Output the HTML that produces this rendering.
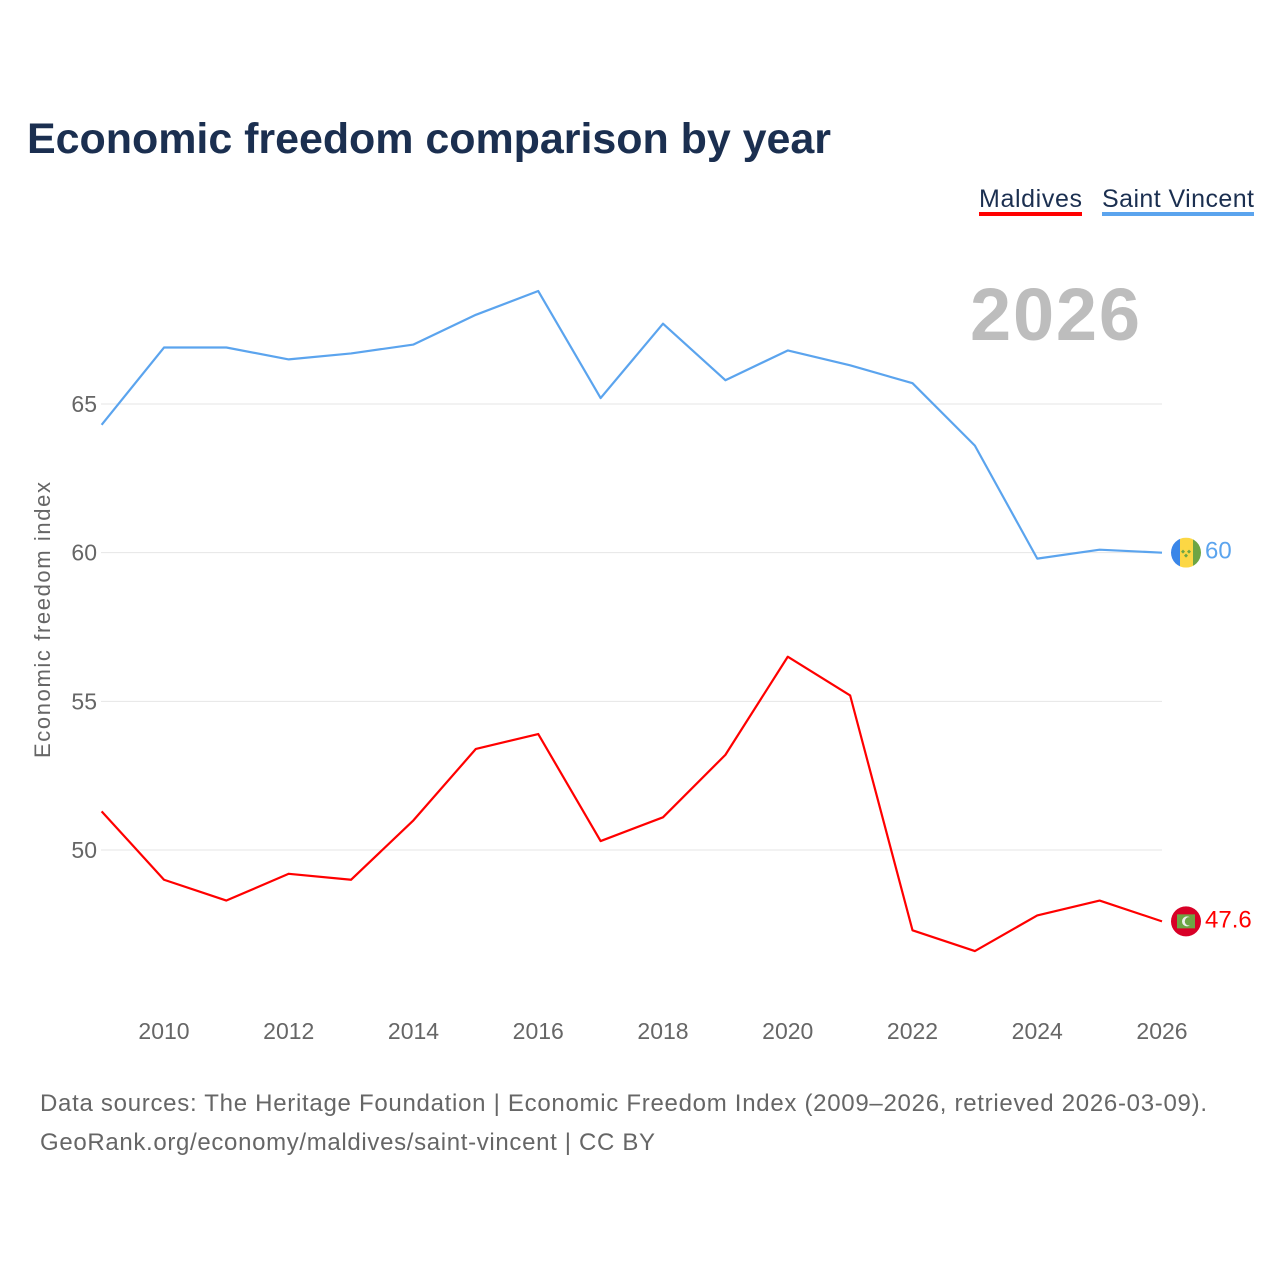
<!DOCTYPE html>
<html><head><meta charset="utf-8"><style>
html,body{margin:0;padding:0;background:#fff;width:1280px;height:1280px;overflow:hidden;font-family:"Liberation Sans",sans-serif;}
</style></head><body>
<svg id="chart" width="1280" height="1280" xmlns="http://www.w3.org/2000/svg" font-family="Liberation Sans, sans-serif">
<text x="27" y="153" font-size="43" font-weight="bold" fill="#1b2f50" textLength="804">Economic freedom comparison by year</text>
<g>
<text x="979" y="207" font-size="25" fill="#1b2f50" textLength="103">Maldives</text>
<rect x="979" y="212" width="103" height="4" fill="#ff0000"/>
<text x="1102" y="207" font-size="25" fill="#1b2f50" textLength="152">Saint Vincent</text>
<rect x="1102" y="212" width="152" height="4" fill="#5ba4ee"/>
</g>
<text x="1140" y="340" font-size="74" font-weight="bold" fill="#bdbdbd" text-anchor="end" textLength="170">2026</text>
<text transform="translate(50,620) rotate(-90)" font-size="22" fill="#666" text-anchor="middle" textLength="276">Economic freedom index</text>
<g id="grid"></g><g id="lines"></g>
<text x="40" y="1111" font-size="24" fill="#666" textLength="1167">Data sources: The Heritage Foundation | Economic Freedom Index (2009–2026, retrieved 2026-03-09).</text>
<text x="40" y="1150" font-size="24" fill="#666" textLength="615">GeoRank.org/economy/maldives/saint-vincent | CC BY</text>
</svg>
<script>
const years=[2009,2010,2011,2012,2013,2014,2015,2016,2017,2018,2019,2020,2021,2022,2023,2024,2025,2026];
const saintVincent=[64.3,66.9,66.9,66.5,66.7,67.0,68.0,68.8,65.2,67.7,65.8,66.8,66.3,65.7,63.6,59.8,60.1,60.0];
const maldives=[51.3,49.0,48.3,49.2,49.0,51.0,53.4,53.9,50.3,51.1,53.2,56.5,55.2,47.3,46.6,47.8,48.3,47.6];
const yTicks=[50,55,60,65];
const xTicks=[2010,2012,2014,2016,2018,2020,2022,2024,2026];
const NS="http://www.w3.org/2000/svg";
function xs(y){return 164+(y-2010)*(1162-164)/16;}
function ys(v){return 850-(v-50)*(850-404)/15;}
function mk(t,a,p){const e=document.createElementNS(NS,t);for(const k in a)e.setAttribute(k,a[k]);p.appendChild(e);return e;}
const grid=document.getElementById('grid'),lines=document.getElementById('lines');
yTicks.forEach(v=>{
 const l=mk('line',{x1:101,x2:1162,y1:ys(v),y2:ys(v),stroke:'#e6e6e6','stroke-width':1},grid);
 
 
 const t=mk('text',{x:97,y:ys(v)+8,'font-size':23,fill:'#666','text-anchor':'end'},grid);t.textContent=v;
 
 
});
xTicks.forEach(y=>{
 const t=mk('text',{x:xs(y),y:1039,'font-size':23,fill:'#666','text-anchor':'middle'},grid);t.textContent=y;
 
 
});
function series(vals,color,name){
 const p=mk('polyline',{points:vals.map((v,i)=>xs(years[i])+','+ys(v)).join(' '),fill:'none',stroke:color,'stroke-width':2.2,'stroke-linejoin':'round'},lines);
 
 
 const last=vals[vals.length-1];
 const t=mk('text',{x:1205,y:ys(last)+6,'font-size':24,fill:color},lines);t.textContent=last;
 
 
 return ys(last);
}
const ySV=series(saintVincent,'#5ba4ee','saint-vincent');
const yMV=series(maldives,'#ff0000','maldives');
const f1=mk('g',{},lines);


const cp=mk('clipPath',{id:'c1'},f1);
mk('circle',{cx:1186,cy:ySV,r:15},cp);
const g1=mk('g',{'clip-path':'url(#c1)'},f1);
mk('rect',{x:1171,y:ySV-15,width:9,height:30,fill:'#3a86e8'},g1);
mk('rect',{x:1180,y:ySV-15,width:13,height:30,fill:'#fcd744'},g1);
mk('rect',{x:1193,y:ySV-15,width:9,height:30,fill:'#6da544'},g1);
mk('path',{d:`M1183 ${ySV-3}l2 2-2 2-2-2zM1189 ${ySV-3}l2 2-2 2-2-2zM1186 ${ySV+1}l2 2-2 2-2-2z`,fill:'#6da544'},g1);
const f2=mk('g',{},lines);


mk('circle',{cx:1186,cy:yMV,r:15,fill:'#d80027'},f2);
mk('rect',{x:1177,y:yMV-7,width:18,height:14,fill:'#6da544'},f2);
mk('circle',{cx:1187,cy:yMV,r:5,fill:'#eee'},f2);
mk('circle',{cx:1189,cy:yMV,r:4.2,fill:'#6da544'},f2);
</script>
</body></html>
